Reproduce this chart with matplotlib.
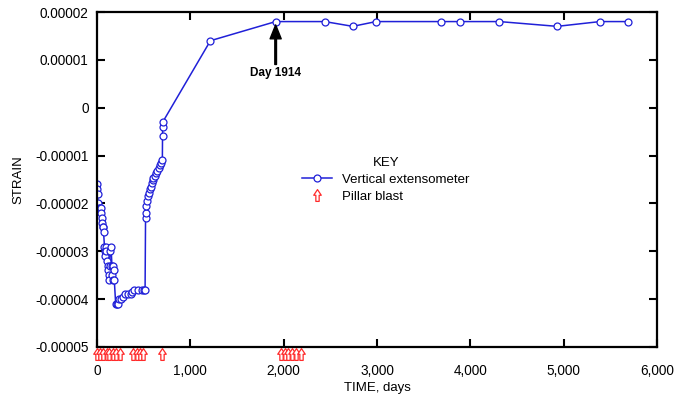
import matplotlib
matplotlib.use("Agg")
import matplotlib.pyplot as plt
from matplotlib.path import Path
from matplotlib.lines import Line2D
from matplotlib.ticker import FuncFormatter, MultipleLocator

plt.rcParams['font.family'] = ['Liberation Sans', 'DejaVu Sans']

# vertical extensometer readings (time in days, strain in units of 1e-5)
time_days = [0, 3, 6, 10, 20, 30, 38, 45, 52, 58, 62, 66, 70,
             80, 85, 90, 95, 100, 110, 115, 120, 125, 130,
             135, 140, 150, 160, 165, 170, 175, 180, 185,
             200, 210, 220, 240, 260, 280, 300, 330, 360, 380, 400, 440, 480, 500, 515,
             520, 525, 530, 538, 546, 555, 565, 575, 585, 595, 605, 618, 630, 645,
             660, 675, 690, 700, 702, 703, 704,
             1215, 1914, 2440, 2740, 2990, 3690, 3890, 4310, 4930, 5390, 5690]
strain_e5 = [-1.6, -1.7, -1.8, -2.0, -2.1, -2.1, -2.1, -2.2, -2.3, -2.4, -2.5, -2.5, -2.6,
             -2.9, -3.0, -3.1, -2.9, -3.0, -3.2, -3.3, -3.4, -3.5, -3.6,
             -3.3, -3.0, -2.9, -3.3, -3.5, -3.6, -3.3, -3.4, -3.6,
             -4.1, -4.1, -4.1, -4.0, -4.0, -3.95, -3.9, -3.9, -3.9, -3.85, -3.8, -3.8, -3.8, -3.8, -3.8,
             -2.3, -2.2, -2.05, -1.95, -1.85, -1.78, -1.7, -1.65, -1.58, -1.52, -1.47, -1.42, -1.37, -1.32,
             -1.27, -1.2, -1.15, -1.1, -0.6, -0.4, -0.3,
             1.4, 1.8, 1.8, 1.7, 1.8, 1.8, 1.8, 1.8, 1.7, 1.8, 1.8]
strain = [v * 1e-5 for v in strain_e5]

# pillar blast days
blast_days = [0, 32, 64, 105, 128, 170, 205, 245, 385, 428, 460, 492, 696,
              1975, 2010, 2050, 2090, 2130, 2190]

BLUE = '#2020d8'
RED = '#ff2a2a'

# hollow up arrow marker
arrow_marker = Path([(-0.14, -0.5), (0.14, -0.5), (0.14, 0.02), (0.32, 0.02),
                     (0.0, 0.5), (-0.32, 0.02), (-0.14, 0.02), (-0.14, -0.5)],
                    [Path.MOVETO] + [Path.LINETO] * 6 + [Path.CLOSEPOLY])

fig = plt.figure(figsize=(6.9, 4.0), dpi=100)
ax = fig.add_axes([0.1406, 0.1325, 0.8116, 0.8375])

ax.plot(time_days, strain, color=BLUE, lw=1.1, marker='o', ms=5,
        mfc='white', mec=BLUE, mew=0.9)

ax.plot(blast_days, [-0.02] * len(blast_days), ls='none', marker=arrow_marker,
        ms=8.5, mfc='white', mec=RED, mew=0.9, clip_on=False,
        transform=ax.get_xaxis_transform(), zorder=5)

ax.set_xlim(0, 6000)
ax.set_ylim(-0.00005, 0.00002)
ax.xaxis.set_major_locator(MultipleLocator(1000))
ax.yaxis.set_major_locator(MultipleLocator(0.00001))
ax.xaxis.set_major_formatter(FuncFormatter(lambda v, p: f"{int(round(v)):,}"))
ax.yaxis.set_major_formatter(FuncFormatter(
    lambda v, p: "0" if abs(v) < 1e-9 else f"{v:.5f}"))
ax.tick_params(direction='in', length=6, width=1.5, top=True, right=True,
               labelsize=9.8)
ax.tick_params(axis='y', pad=6)
ax.tick_params(axis='x', pad=12)
for s in ax.spines.values():
    s.set_linewidth(1.6)

ax.set_xlabel("TIME, days", fontsize=9.5, labelpad=3)
ax.set_ylabel("STRAIN", fontsize=9.5, labelpad=8)

ax.annotate("Day 1914", xy=(1914, 0.0000173), xytext=(1914, 0.0000072),
            ha='center', va='center', fontsize=8.5, fontweight='bold',
            arrowprops=dict(facecolor='black', edgecolor='black', width=1.2,
                            headwidth=8, headlength=10, shrink=0.0))

handles = [Line2D([], [], color=BLUE, lw=1.1, marker='o', ms=5, mfc='white',
                  mec=BLUE, mew=0.9),
           Line2D([], [], ls='none', marker=arrow_marker, ms=8.5, mfc='white',
                  mec=RED, mew=0.9)]
leg = ax.legend(handles, ["Vertical extensometer", "Pillar blast"], title="KEY",
                loc='upper left', bbox_to_anchor=(0.425, 0.63),
                bbox_transform=fig.transFigure, frameon=False, fontsize=9.5,
                title_fontsize=9.5, handlelength=2.2, handletextpad=0.8,
                labelspacing=0.35, borderpad=0.2)

fig.savefig("out.png", dpi=100)
